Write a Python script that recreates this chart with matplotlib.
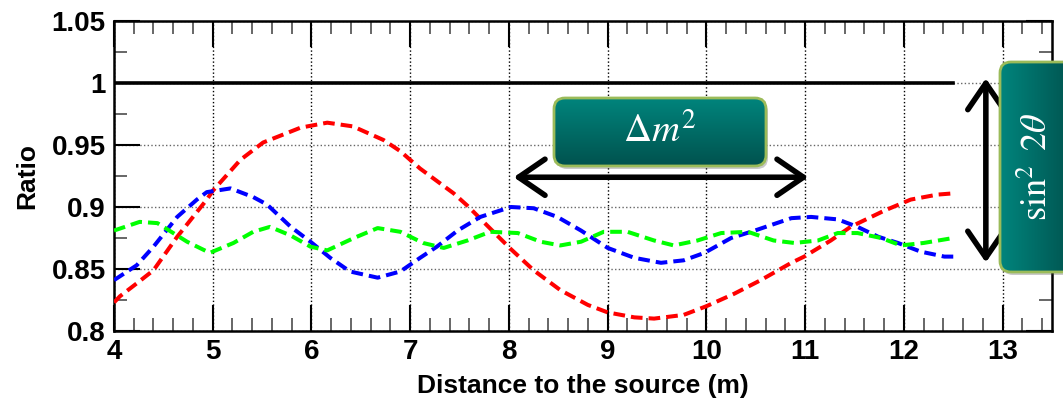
import numpy as np
import matplotlib
matplotlib.use('Agg')
import matplotlib.pyplot as plt
from matplotlib.patches import FancyBboxPatch
from matplotlib.colors import LinearSegmentedColormap
from matplotlib.ticker import MultipleLocator

plt.rcParams['font.family'] = ['Liberation Sans', 'DejaVu Sans']
plt.rcParams['mathtext.fontset'] = 'stix'

# values
black_x = [4.0, 12.5]
black_y = [1.0, 1.0]

red_x = [4.0, 4.06, 4.24, 4.4, 4.64, 4.8, 4.94, 5.0, 5.28, 5.51, 5.89, 6.16, 6.42,
         6.73, 6.9, 7.1, 7.44, 7.58, 7.78, 8.02, 8.25, 8.52, 8.8, 9.0, 9.27, 9.47,
         9.77, 10.0, 10.28, 10.55, 10.86, 10.99, 11.26, 11.46, 11.8, 12.07, 12.34, 12.5]
red_y = [0.823, 0.828, 0.839, 0.849, 0.876, 0.892, 0.906, 0.913, 0.938, 0.952, 0.964,
         0.968, 0.965, 0.954, 0.945, 0.931, 0.911, 0.901, 0.885, 0.866, 0.849, 0.833,
         0.821, 0.815, 0.811, 0.810, 0.813, 0.820, 0.830, 0.841, 0.855, 0.860, 0.873,
         0.884, 0.897, 0.906, 0.910, 0.911]

blue_x = [4.0, 4.23, 4.4, 4.64, 4.84, 4.94, 5.18, 5.41, 5.55, 5.79, 5.99, 6.19, 6.39,
          6.67, 6.9, 7.1, 7.27, 7.48, 7.71, 8.02, 8.25, 8.49, 8.73, 9.0, 9.27, 9.54,
          9.77, 9.98, 10.25, 10.49, 10.86, 11.06, 11.33, 11.53, 11.74, 11.94, 12.17,
          12.41, 12.5]
blue_y = [0.841, 0.853, 0.868, 0.892, 0.906, 0.912, 0.915, 0.908, 0.902, 0.884, 0.872,
          0.859, 0.848, 0.843, 0.848, 0.859, 0.868, 0.881, 0.892, 0.900, 0.899, 0.892,
          0.881, 0.867, 0.859, 0.855, 0.857, 0.863, 0.875, 0.881, 0.891, 0.892, 0.890,
          0.884, 0.876, 0.871, 0.864, 0.860, 0.860]

green_x = [4.0, 4.26, 4.44, 4.6, 4.74, 4.97, 5.21, 5.41, 5.58, 5.79, 5.99, 6.16, 6.43,
           6.67, 6.9, 7.13, 7.34, 7.58, 7.81, 8.09, 8.32, 8.52, 8.73, 8.96, 9.2, 9.47,
           9.67, 9.91, 10.15, 10.42, 10.68, 10.89, 11.13, 11.33, 11.53, 11.77, 11.97,
           12.2, 12.5]
green_y = [0.881, 0.888, 0.887, 0.879, 0.872, 0.863, 0.871, 0.880, 0.884, 0.877, 0.868,
           0.865, 0.875, 0.883, 0.880, 0.871, 0.867, 0.873, 0.880, 0.879, 0.872, 0.869,
           0.872, 0.880, 0.880, 0.873, 0.869, 0.873, 0.879, 0.880, 0.873, 0.871, 0.873,
           0.879, 0.879, 0.875, 0.869, 0.871, 0.875]

xticks = [4, 5, 6, 7, 8, 9, 10, 11, 12, 13]
yticks = [0.8, 0.85, 0.9, 0.95, 1.0, 1.05]
ytick_labels = ['0.8', '0.85', '0.9', '0.95', '1', '1.05']

W, H = 1063, 401
fig = plt.figure(figsize=(W / 100, H / 100), dpi=100)
ax = fig.add_axes([114 / W, 1 - 331 / H, 938 / W, 310 / H])

ax.plot(black_x, black_y, color='k', lw=2.6, zorder=3)
for xs, ys, c in [(red_x, red_y, '#ff0000'), (blue_x, blue_y, '#0000ff'),
                  (green_x, green_y, '#00ff00')]:
    ax.plot(xs, ys, color=c, lw=2.9, dashes=(2.9, 1.5), zorder=3)

ax.set_xlim(4, 13.5)
ax.set_ylim(0.8, 1.05)
ax.set_xticks(xticks)
ax.set_yticks(yticks)
ax.set_yticklabels(ytick_labels)
ax.xaxis.set_minor_locator(MultipleLocator(0.2))
ax.yaxis.set_minor_locator(MultipleLocator(0.025))
ax.tick_params(which='both', direction='in', top=True, right=True, labelsize=20)
ax.tick_params(which='major', length=19, width=1.5, pad=6)
ax.tick_params(which='minor', length=9.5, width=1.2, color='0.3')
for lbl in ax.get_xticklabels() + ax.get_yticklabels():
    lbl.set_fontweight('bold')
ax.xaxis.grid(True, ls=':', color='k', lw=1)
ax.yaxis.grid(True, ls=':', color='0.4', lw=1)
for s in ax.spines.values():
    s.set_linewidth(1.8)

ax.set_xlabel('Distance to the source (m)', fontsize=19, fontweight='bold')
ax.set_ylabel('Ratio', fontsize=19, fontweight='bold')
ax.xaxis.set_label_coords(0.5, -0.14)
ax.yaxis.set_label_coords(-0.08, 0.5)

# double arrows
arr = dict(arrowstyle='<->, head_length=0.95, head_width=0.65', lw=4, color='k',
           mutation_scale=20, capstyle='round', joinstyle='round')
ax.annotate('', xy=(8.02, 0.924), xytext=(11.06, 0.924), arrowprops=arr)
ax.annotate('', xy=(12.83, 1.006), xytext=(12.83, 0.853), arrowprops=arr)


def gbox(x0, y0, w, h, text, rot, horiz, size):
    m = 8
    bx = fig.add_axes([(x0 - m) / W, 1 - (y0 + h + m) / H, (w + 2 * m) / W, (h + 2 * m) / H])
    bx.set_xlim(-m, w + m)
    bx.set_ylim(-m, h + m)
    bx.axis('off')
    style = 'round,pad=0,rounding_size=11'
    # soft shadow under the box
    bx.add_patch(FancyBboxPatch((2, -3), w, h, boxstyle=style, fc='0.3', alpha=0.3,
                                ec='none', zorder=1))
    cmap = LinearSegmentedColormap.from_list('t', ['#00857d', '#00524e'])
    g = np.linspace(0, 1, 256)
    img = g[None, :] if horiz else g[::-1, None]
    im = bx.imshow(img, extent=(0, w, 0, h), cmap=cmap, aspect='auto', origin='lower',
                   zorder=2)
    p = FancyBboxPatch((0, 0), w, h, boxstyle=style, fc='none', ec='#9bbb59', lw=2,
                       zorder=3)
    bx.add_patch(p)
    im.set_clip_path(p)
    bx.text(w / 2, h / 2, text, color='white', fontsize=size, rotation=rot,
            ha='center', va='center', zorder=4)


gbox(554, 98, 212, 68, r'$\Delta m^2$', 0, False, 28)
gbox(1000, 62, 75, 210, r'$\sin^2\ 2\theta$', 90, True, 26)

fig.savefig('out.png', dpi=100)
